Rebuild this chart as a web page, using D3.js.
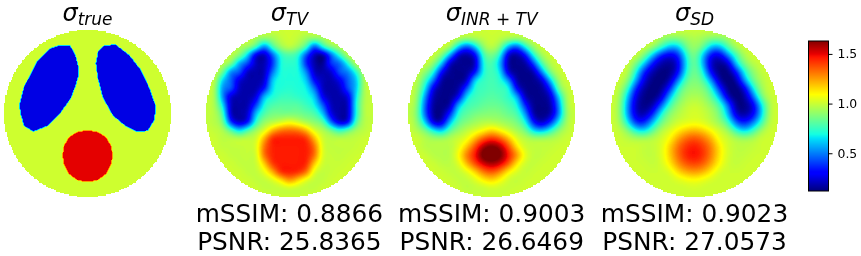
<!DOCTYPE html>
<meta charset="utf-8">
<style>
body { margin: 0; background: #fff; }
canvas, svg { position: absolute; left: 0; top: 0; }
</style>
<body>
<script src="https://d3js.org/d3.v7.min.js"></script>

<script>

// Values. Grids are 21x21 samples over the disc, 0..500 in both directions.

var tvGrid = [
[1,1,1,1,1,1,1,1,1,1,1,1,1,1,1,1,1,1,1,1,1],
[1,1,1,1,1,1,.93,.9,.92,.98,1,.98,.92,.9,.92,1,1,1,1,1,1],
[1,1,1,1,.95,.92,.78,.5,.78,.92,.98,.92,.78,.42,.72,.88,.95,1,1,1,1],
[1,1,1,.97,.88,.62,.24,.19,.45,.72,.78,.72,.42,.19,.14,.45,.72,.95,1,1,1],
[1,1,.97,.88,.55,.42,.2,.19,.38,.7,.72,.7,.36,.18,.14,.4,.45,.7,.97,1,1],
[1,1,.85,.5,.46,.2,.18,.19,.48,.7,.7,.7,.52,.2,.18,.22,.45,.5,.72,.97,1],
[1,.98,.62,.46,.24,.18,.18,.22,.62,.7,.7,.7,.62,.3,.2,.18,.27,.45,.6,.95,1],
[1,.95,.52,.45,.2,.18,.18,.32,.66,.7,.72,.7,.68,.48,.2,.18,.2,.42,.6,.95,1],
[.98,.95,.52,.22,.18,.18,.24,.6,.7,.75,.75,.73,.7,.62,.27,.18,.18,.24,.66,.95,.98],
[.98,.95,.66,.2,.18,.18,.4,.7,.78,.8,.8,.8,.75,.68,.45,.2,.18,.2,.7,.96,.98],
[.98,.96,.78,.2,.18,.22,.6,.78,.85,.85,.85,.85,.82,.78,.6,.25,.18,.2,.7,.96,.98],
[.98,.96,.86,.36,.2,.3,.72,.9,.95,1,1.05,1,.93,.88,.8,.45,.22,.27,.78,.96,.98],
[1,.98,.95,.8,.62,.78,.92,1.02,1.2,1.3,1.32,1.3,1.2,1.02,.95,.85,.72,.82,.93,.97,1],
[1,1,.97,.97,.97,.98,1,1.22,1.44,1.45,1.45,1.45,1.42,1.2,1,.97,.97,.97,.98,1,1],
[1,1,.98,.98,.98,.99,1.02,1.32,1.44,1.45,1.45,1.45,1.45,1.32,1.02,.98,.98,.98,.99,1,1],
[1,1,1,.98,.98,.99,1,1.32,1.44,1.45,1.45,1.45,1.45,1.32,1.02,.99,.98,.99,1,1,1],
[1,1,1,1,.98,.98,.99,1.17,1.41,1.45,1.45,1.45,1.44,1.17,1,.99,.99,1,1,1,1],
[1,1,1,1,1,.98,.98,1.05,1.22,1.43,1.45,1.43,1.32,1.03,.98,.99,1,1,1,1,1],
[1,1,1,1,1,1,.98,.98,1.02,1.12,1.25,1.15,1.03,.98,.98,1,1,1,1,1,1],
[1,1,1,1,1,1,1,.98,.98,.98,.99,.98,.98,.98,1,1,1,1,1,1,1],
[1,1,1,1,1,1,1,1,1,1,1,1,1,1,1,1,1,1,1,1,1]
];

var inrGrid = [
[1,1,1,1,1,1,1,1,1,1,1,1,1,1,1,1,1,1,1,1,1],
[1,1,1,1,1,1,.97,.93,.95,.98,1,.98,.95,.93,.97,1,1,1,1,1,1],
[1,1,1,1,1,.95,.62,.42,.62,.9,.98,.88,.56,.42,.7,.92,1,1,1,1,1],
[1,1,1,1,.88,.56,.2,.16,.26,.76,.85,.7,.2,.16,.3,.7,.93,1,1,1,1],
[1,1,1,.9,.62,.2,.15,.15,.18,.7,.78,.58,.16,.15,.15,.4,.78,.95,1,1,1],
[1,1,.9,.72,.3,.15,.14,.15,.28,.7,.76,.66,.2,.14,.14,.17,.52,.86,.98,1,1],
[1,.97,.78,.5,.16,.14,.14,.18,.64,.74,.77,.72,.52,.16,.14,.14,.22,.6,.92,1,1],
[1,.94,.68,.25,.14,.14,.16,.42,.72,.75,.78,.75,.72,.28,.14,.14,.15,.34,.83,.98,1],
[1,.92,.54,.18,.14,.14,.25,.66,.75,.78,.8,.78,.72,.6,.18,.14,.14,.2,.6,.95,1],
[.98,.9,.46,.15,.14,.16,.58,.75,.78,.82,.83,.82,.78,.7,.36,.14,.14,.16,.5,.94,1],
[.97,.88,.46,.15,.14,.34,.72,.8,.85,.87,.88,.87,.82,.78,.54,.16,.14,.16,.47,.92,.98],
[1,.9,.62,.22,.2,.58,.8,.87,.92,.95,.95,.93,.9,.85,.7,.32,.18,.34,.66,.94,1],
[1,.95,.86,.68,.58,.8,.9,.97,1.02,1.08,1.15,1.08,1,.93,.85,.62,.56,.7,.88,.97,1],
[1,1,.96,.93,.93,.96,1,1.05,1.2,1.35,1.42,1.35,1.2,1.03,.97,.94,.94,.95,.97,1,1],
[1,1,.96,.96,.96,.96,1.03,1.18,1.38,1.58,1.65,1.58,1.38,1.13,1,.98,.98,.98,1,1,1],
[1,1,1,.96,.96,.96,1.08,1.3,1.46,1.68,1.72,1.65,1.46,1.27,1.05,.98,.98,1,1,1,1],
[1,1,1,1,.97,.97,1.02,1.2,1.38,1.52,1.58,1.52,1.36,1.12,1,.98,1,1,1,1,1],
[1,1,1,1,1,.98,.98,1.03,1.15,1.3,1.36,1.27,1.1,1.02,.98,1,1,1,1,1,1],
[1,1,1,1,1,1,.98,.98,1.02,1.1,1.15,1.08,1,.98,1,1,1,1,1,1,1],
[1,1,1,1,1,1,1,.97,.98,.98,1,.99,.99,1,1,1,1,1,1,1,1],
[1,1,1,1,1,1,1,1,1,1,1,1,1,1,1,1,1,1,1,1,1]
];

var sdGrid = [
[1,1,1,1,1,1,1,1,1,1,1,1,1,1,1,1,1,1,1,1,1],
[1,1,1,1,1,1,.92,.88,.88,.92,.95,.92,.88,.88,.92,1,1,1,1,1,1],
[1,1,1,1,1,.93,.78,.6,.6,.85,.92,.85,.6,.58,.8,.95,1,1,1,1,1],
[1,1,1,1,.86,.6,.34,.26,.34,.7,.88,.6,.3,.25,.52,.76,.95,1,1,1,1],
[1,1,1,.86,.62,.32,.18,.15,.24,.65,.85,.58,.2,.15,.2,.64,.86,.97,1,1,1],
[1,1,.97,.7,.34,.18,.12,.13,.26,.7,.85,.7,.26,.13,.12,.32,.7,.88,.98,1,1],
[1,1,.9,.56,.24,.13,.11,.17,.48,.8,.87,.8,.52,.17,.11,.16,.56,.83,.95,1,1],
[1,.97,.75,.34,.16,.11,.14,.33,.72,.88,.9,.88,.72,.36,.13,.11,.24,.66,.91,1,1],
[1,.94,.6,.24,.13,.12,.2,.58,.82,.92,.95,.92,.82,.58,.2,.11,.16,.44,.84,.98,1],
[1,.92,.53,.2,.13,.17,.44,.75,.9,.97,1,.97,.9,.78,.48,.14,.13,.24,.63,.95,1],
[1,.92,.53,.22,.17,.34,.68,.88,.95,1,1.02,1,.95,.85,.58,.2,.16,.26,.6,.96,1],
[1,.94,.66,.34,.34,.58,.82,.93,1,1.02,1.04,1.02,.97,.9,.75,.42,.32,.46,.73,.97,1],
[1,.98,.88,.68,.62,.8,.95,1.02,1.1,1.17,1.2,1.16,1.08,1,.92,.72,.6,.74,.92,1,1],
[1,1,.97,.95,.95,.97,1.01,1.08,1.23,1.33,1.37,1.32,1.21,1.05,1,.95,.93,.95,1,1,1],
[1,1,1,1,.98,.98,1.02,1.16,1.32,1.42,1.46,1.4,1.29,1.12,1.01,.97,.97,.98,1,1,1],
[1,1,1,1,.98,.98,1.02,1.16,1.32,1.44,1.48,1.42,1.29,1.12,1.01,.98,.98,1,1,1,1],
[1,1,1,1,1,.98,1.01,1.11,1.26,1.36,1.39,1.35,1.23,1.09,1,.98,1,1,1,1,1],
[1,1,1,1,1,1,1,1.02,1.14,1.22,1.25,1.21,1.11,1.01,1,1,1,1,1,1,1],
[1,1,1,1,1,1,1,1,1.02,1.05,1.07,1.04,1.01,1,1,1,1,1,1,1,1],
[1,1,1,1,1,1,1,1,1,1,1.01,1,1,1,1,1,1,1,1,1,1],
[1,1,1,1,1,1,1,1,1,1,1,1,1,1,1,1,1,1,1,1,1]
];

// True image: three regions on a background, outlines in the same 0..500 units.

var trueLevels = { background: 1, lung: 0.25, target: 1.5 };

var leftLung = [[168,45],[198,47],[214,75],[224,115],[222,140],[215,165],[200,205],[166,252],[130,287],[88,304],[60,287],[50,252],[46,225],[60,170],[100,92],[136,56]];
var rightLung = [[298,48],[333,43],[375,75],[410,120],[436,175],[455,230],[450,270],[430,302],[398,304],[363,287],[326,256],[296,202],[281,145],[275,100],[282,63]];
var target = [[250,300],[280,305],[305,320],[320,345],[326,376],[320,405],[305,432],[280,450],[250,455],[220,450],[195,432],[180,405],[175,376],[180,345],[195,320],[220,305]];

var subscripts = ["true", "TV", "INR + TV", "SD"];
var centers = [87.5, 289.4, 491.7, 694.5];
var mssim = [null, "0.8866", "0.9003", "0.9023"];
var psnr = [null, "25.8365", "26.6469", "27.0573"];
var colorTicks = [0.5, 1.0, 1.5];

// how far the display smoothing reaches for each reconstruction, in the 0..500 units
var softness = [null, 10, 12, 14];

var width = 861,
    height = 256,
    radius = 83.5,
    top0 = 30,
    vmin = 0.12,
    vmax = 1.63;

// matplotlib jet

var jetStops = [
    [0, "#000080"], [0.11, "#0000ff"], [0.125, "#0000ff"], [0.35, "#00e4f8"], [0.375, "#14ffe2"],
    [0.64, "#ffff00"], [0.66, "#ffee00"], [0.89, "#ff1300"], [0.91, "#e80000"], [1, "#800000"]
];

var color = d3.scaleLinear()
    .domain(jetStops.map(function(d) { return vmin + d[0] * (vmax - vmin); }))
    .range(jetStops.map(function(d) { return d[1]; }))
    .clamp(true);

var lut = d3.range(256).map(function(i) {
    return d3.rgb(color(vmin + i / 255 * (vmax - vmin)));
});

var lutIndex = d3.scaleQuantize().domain([vmin, vmax]).range(d3.range(256));

var canvas = d3.select("body").append("canvas")
    .attr("width", width)
    .attr("height", height);

var ctx = canvas.node().getContext("2d");
var image = ctx.createImageData(width, height);

image.data.fill(255);

// imshow-style smoothing between the grid samples, only for display

function cubic(a, b, c, d, t) {
    return b + 0.5 * t * (c - a + t * (2 * a - 5 * b + 4 * c - d + t * (3 * (b - c) + d - a)));
}

function sampleGrid(grid, u, v) {
    var gx = Math.max(0, Math.min(500, u)) / 25,
        gy = Math.max(0, Math.min(500, v)) / 25,
        ix = Math.min(19, Math.floor(gx)),
        iy = Math.min(19, Math.floor(gy));

    function rowAt(j) {
        var row = grid[Math.max(0, Math.min(20, j))];
        function at(i) { return row[Math.max(0, Math.min(20, i))]; }
        return cubic(at(ix - 1), at(ix), at(ix + 1), at(ix + 2), gx - ix);
    }

    return cubic(rowAt(iy - 1), rowAt(iy), rowAt(iy + 1), rowAt(iy + 2), gy - iy);
}

var kernel = [[-1, 1], [0, 2], [1, 1]];

function softGrid(grid, s) {
    return function(u, v) {
        var sum = 0;
        kernel.forEach(function(a) {
            kernel.forEach(function(b) {
                sum += a[1] * b[1] * sampleGrid(grid, u + a[0] * s, v + b[0] * s);
            });
        });
        return sum / 16;
    };
}

function trueLevel(u, v) {
    var p = [u, v];
    if (d3.polygonContains(leftLung, p) || d3.polygonContains(rightLung, p)) return trueLevels.lung;
    if (d3.polygonContains(target, p)) return trueLevels.target;
    return trueLevels.background;
}

function sampleTrue(u, v) {
    // small box blur to get the thin rim of the original
    var s = 1.4;
    return (trueLevel(u - s, v - s) + trueLevel(u + s, v - s) + trueLevel(u - s, v + s) + trueLevel(u + s, v + s)) / 4;
}

var fields = [
    sampleTrue,
    softGrid(tvGrid, softness[1]),
    softGrid(inrGrid, softness[2]),
    softGrid(sdGrid, softness[3])
];

var cell = 500 / 128;

centers.forEach(function(cx, k) {
    var x = d3.scaleLinear().domain([0, 500]).range([cx - radius, cx + radius]),
        y = d3.scaleLinear().domain([0, 500]).range([top0, top0 + 2 * radius]);

    for (var py = Math.floor(y(0)); py <= Math.ceil(y(500)); py++) {
        for (var px = Math.floor(x(0)); px <= Math.ceil(x(500)); px++) {
            var u = x.invert(px + 0.5),
                v = y.invert(py + 0.5),
                su = (Math.floor(u / cell) + 0.5) * cell,
                sv = (Math.floor(v / cell) + 0.5) * cell;

            // disc edge follows the coarse cells, so it stays a bit stepped
            if (Math.hypot(su - 250, sv - 250) > 250) continue;

            var c = lut[lutIndex(fields[k](u, v))],
                o = (py * width + px) * 4;

            image.data[o] = c.r;
            image.data[o + 1] = c.g;
            image.data[o + 2] = c.b;
        }
    }
});

ctx.putImageData(image, 0, 0);

var svg = d3.select("body").append("svg")
    .attr("width", width)
    .attr("height", height)
    .attr("font-family", "DejaVu Sans")
    .attr("fill", "#000");

// Titles

var titles = svg.selectAll(".title")
    .data(subscripts)
    .enter().append("text")
    .attr("class", "title")
    .attr("x", function(d, i) { return centers[i]; })
    .attr("y", 21)
    .attr("text-anchor", "middle")
    .attr("font-style", "italic");

titles.append("tspan")
    .attr("font-size", "24px")
    .text("σ");

titles.append("tspan")
    .attr("font-size", "17px")
    .attr("dy", 4)
    .text(function(d) { return d; });

// Metrics under the three reconstructions

[["mSSIM: ", mssim, 222], ["PSNR: ", psnr, 250]].forEach(function(line) {
    svg.selectAll(null)
        .data(centers.filter(function(d, i) { return line[1][i]; }))
        .enter().append("text")
        .attr("x", function(d) { return d; })
        .attr("y", line[2])
        .attr("text-anchor", "middle")
        .attr("font-size", "24.8px")
        .text(function(d) { return line[0] + line[1][centers.indexOf(d)]; });
});

// Colorbar

var barLeft = 808.5,
    barWidth = 20,
    barY = d3.scaleLinear().domain([vmin, vmax]).range([191, 41]);

var barSteps = d3.range(151).map(function(i) { return vmin + i / 150 * (vmax - vmin); });

svg.append("g")
    .attr("shape-rendering", "crispEdges")
    .selectAll("rect")
    .data(barSteps.slice(0, -1))
    .enter().append("rect")
    .attr("x", barLeft)
    .attr("y", function(d, i) { return barY(barSteps[i + 1]); })
    .attr("width", barWidth)
    .attr("height", function(d, i) { return barY(d) - barY(barSteps[i + 1]); })
    .attr("fill", function(d) { return color(d); });

svg.append("rect")
    .attr("x", barLeft)
    .attr("y", 41)
    .attr("width", barWidth)
    .attr("height", 150)
    .attr("fill", "none")
    .attr("stroke", "#000");

var barAxis = svg.append("g")
    .attr("transform", "translate(" + (barLeft + barWidth) + ",0)")
    .call(d3.axisRight(barY).tickValues(colorTicks).tickFormat(d3.format(".1f")).tickSize(4).tickPadding(5));

barAxis.select(".domain").remove();
barAxis.selectAll("text").attr("font-size", "12.4px").attr("font-family", "DejaVu Sans");

</script>

</html>
